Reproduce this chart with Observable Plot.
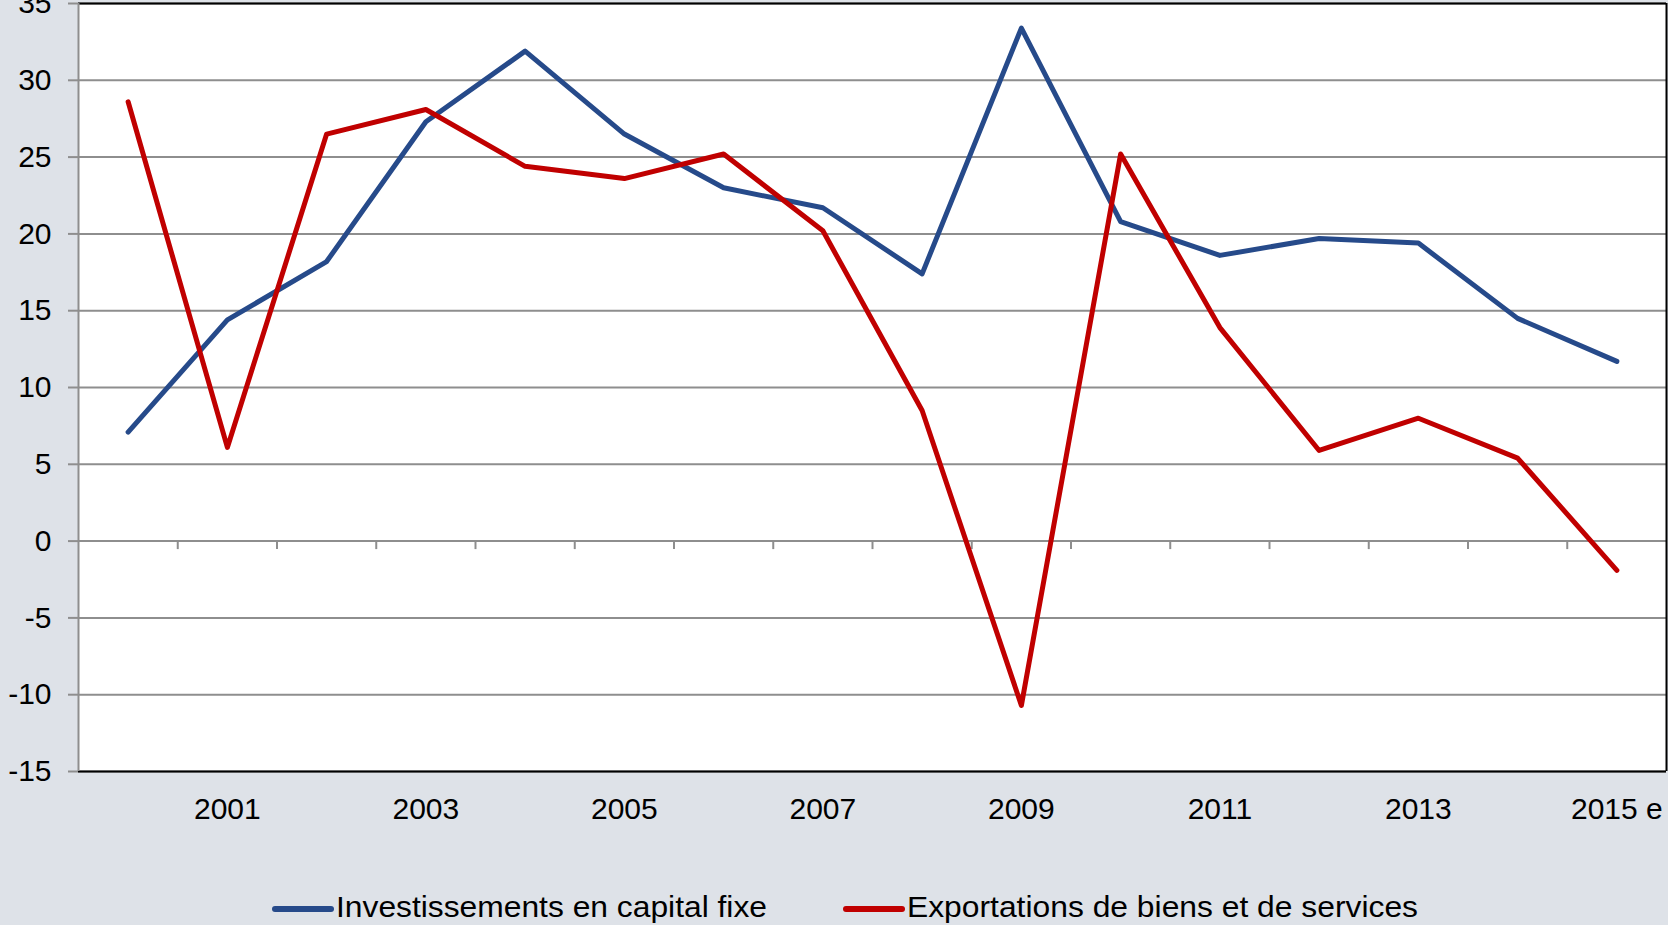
<!DOCTYPE html>
<html><head><meta charset="utf-8">
<script src="https://cdn.jsdelivr.net/npm/d3@7"></script>
<script src="https://cdn.jsdelivr.net/npm/@observablehq/plot@0.6"></script>
<style>
html,body{margin:0;padding:0;background:#dee2e8;width:1668px;height:925px;overflow:hidden;font-family:"Liberation Sans",Arial,sans-serif;}
#chart svg, #legend svg{display:block;}
</style></head><body><div id="chart"></div><div id="legend"></div>
<script>
const years = [2000,2001,2002,2003,2004,2005,2006,2007,2008,2009,2010,2011,2012,2013,2014,2015];
const investissements = [7.1,14.4,18.2,27.3,31.9,26.5,23.0,21.7,17.4,33.4,20.8,18.6,19.7,19.4,14.5,11.7];
const exportations = [28.6,6.1,26.5,28.1,24.4,23.6,25.2,20.2,8.5,-10.7,25.2,13.9,5.9,8.0,5.4,-1.9];
const seriesNames = ["Investissements en capital fixe","Exportations de biens et de services"];
const seriesColors = ["#264a8a","#c00000"];
const yTicks = [-15,-10,-5,0,5,10,15,20,25,30,35];
const xTickYears = [2001,2003,2005,2007,2009,2011,2013,2015];
const xTickLabels = ["2001","2003","2005","2007","2009","2011","2013","2015 e"];

const data = years.flatMap((yr,i)=>[
  {year:yr, value:investissements[i], series:seriesNames[0]},
  {year:yr, value:exportations[i], series:seriesNames[1]}
]);
const boundaries = years.slice(1).map(y=>y-0.5);
const W = 1668, H = 830;
const gridColor = "#8e8e8e";
const tickSymbol = {draw(ctx){ ctx.moveTo(0,0); ctx.lineTo(0,8); }};

const chart = Plot.plot({
  width: W, height: H,
  marginLeft: 78, marginRight: 2, marginTop: 3, marginBottom: 59,
  style: {background:"transparent", fontFamily:"Liberation Sans, Arial, sans-serif", color:"#000", fontSize:"30px"},
  x: {type:"linear", domain:[years[0]-0.5, years[years.length-1]+0.5], label:null},
  y: {domain:[-15,35], label:null},
  color: {domain: seriesNames, range: seriesColors},
  marks: [
    Plot.frame({fill:"white", stroke:null}),
    Plot.gridY(yTicks, {stroke:gridColor, strokeOpacity:1, strokeWidth:2}),
    Plot.dot(boundaries, {x:d=>d, y:()=>0, symbol:tickSymbol, r:3, stroke:gridColor, strokeWidth:2, fill:"none"}),
    Plot.axisY(yTicks, {tickSize:10, tickPadding:17, stroke:gridColor, strokeWidth:2, strokeOpacity:1, fontSize:30, fill:"#000", label:null, tickFormat:d=>String(d)}),
    Plot.axisX(xTickYears, {tickSize:0, tickPadding:26, tickFormat:d=>xTickLabels[xTickYears.indexOf(d)], fontSize:30, fill:"#000", label:null}),
    Plot.ruleY([yTicks[0], yTicks[yTicks.length-1]], {stroke:"#000", strokeWidth:2}),
    Plot.ruleX([years[years.length-1]+0.5], {stroke:"#000", strokeWidth:2}),
    Plot.ruleX([years[0]-0.5], {stroke:gridColor, strokeWidth:2}),
    Plot.line(data, {x:"year", y:"value", stroke:"series", z:"series", strokeWidth:5, strokeLinecap:"round", strokeLinejoin:"round"})
  ]
});
document.getElementById("chart").appendChild(chart);

// legend
const legend = d3.create("svg").attr("width", W).attr("height", 95);
const items = [{x:275, len:431}, {x:846, len:511}];
items.forEach((it,i)=>{
  const g = legend.append("g");
  g.append("line").attr("x1", it.x).attr("x2", it.x+56).attr("y1", 79).attr("y2", 79)
    .attr("stroke", seriesColors[i]).attr("stroke-width", 6).attr("stroke-linecap","round");
  g.append("text").attr("x", it.x+61).attr("y", 87).attr("font-size", 29)
    .attr("textLength", it.len).attr("lengthAdjust","spacingAndGlyphs")
    .attr("font-family","Liberation Sans, Arial, sans-serif").attr("fill","#000").text(seriesNames[i]);
});
document.getElementById("legend").appendChild(legend.node());
</script>
</body></html>
